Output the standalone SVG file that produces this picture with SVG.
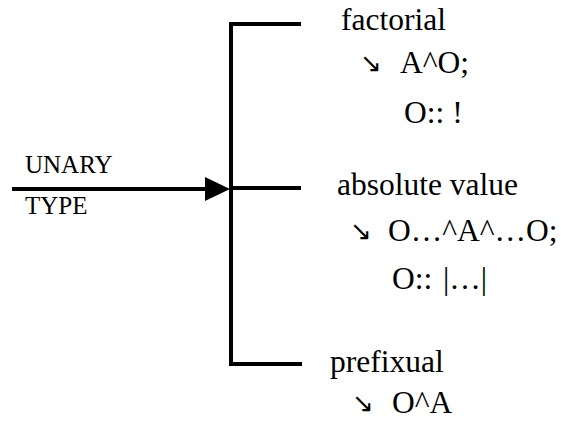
<svg xmlns="http://www.w3.org/2000/svg" width="561" height="421" viewBox="0 0 561 421">
<style>
.ln{stroke:#000;stroke-width:4;fill:none;stroke-linecap:butt}
.t{font-family:"Liberation Serif","Times New Roman","DejaVu Serif",serif;font-size:31.5px;fill:#000}
.s{font-family:"Liberation Serif","Times New Roman","DejaVu Serif",serif;font-size:25px;fill:#000}
.ar{font-family:"DejaVu Sans",sans-serif;font-size:26px;fill:#000}
</style>
<rect width="561" height="421" fill="#fff"/>
<g id="connectors">
<path class="ln" d="M301,24 H231 V364 H302"/>
<path class="ln" d="M231,188 H301"/>
<path class="ln" d="M12,189 H207"/>
<path d="M205,177 L230,189 L205,201 Z" fill="#000"/>
</g>
<g id="input">
<text class="s" x="25" y="173">UNARY</text>
<text class="s" x="25" y="214">TYPE</text>
</g>
<g id="factorial">
<text class="t" x="341" y="30">factorial</text>
<text class="ar" x="360" y="72">↘</text>
<text class="t" x="400" y="73">A^O;</text>
<text class="t" x="404" y="123">O:: !</text>
</g>
<g id="absolute">
<text class="t" x="337" y="195">absolute value</text>
<text class="ar" x="350" y="240">↘</text>
<text class="t" x="388" y="241">O…^A^…O;</text>
<text class="t" x="392" y="289">O::<tspan x="443">|…|</tspan></text>
</g>
<g id="prefixual">
<text class="t" x="330" y="372">prefixual</text>
<text class="ar" x="352" y="412">↘</text>
<text class="t" x="392" y="413">O^A</text>
</g>
</svg>
